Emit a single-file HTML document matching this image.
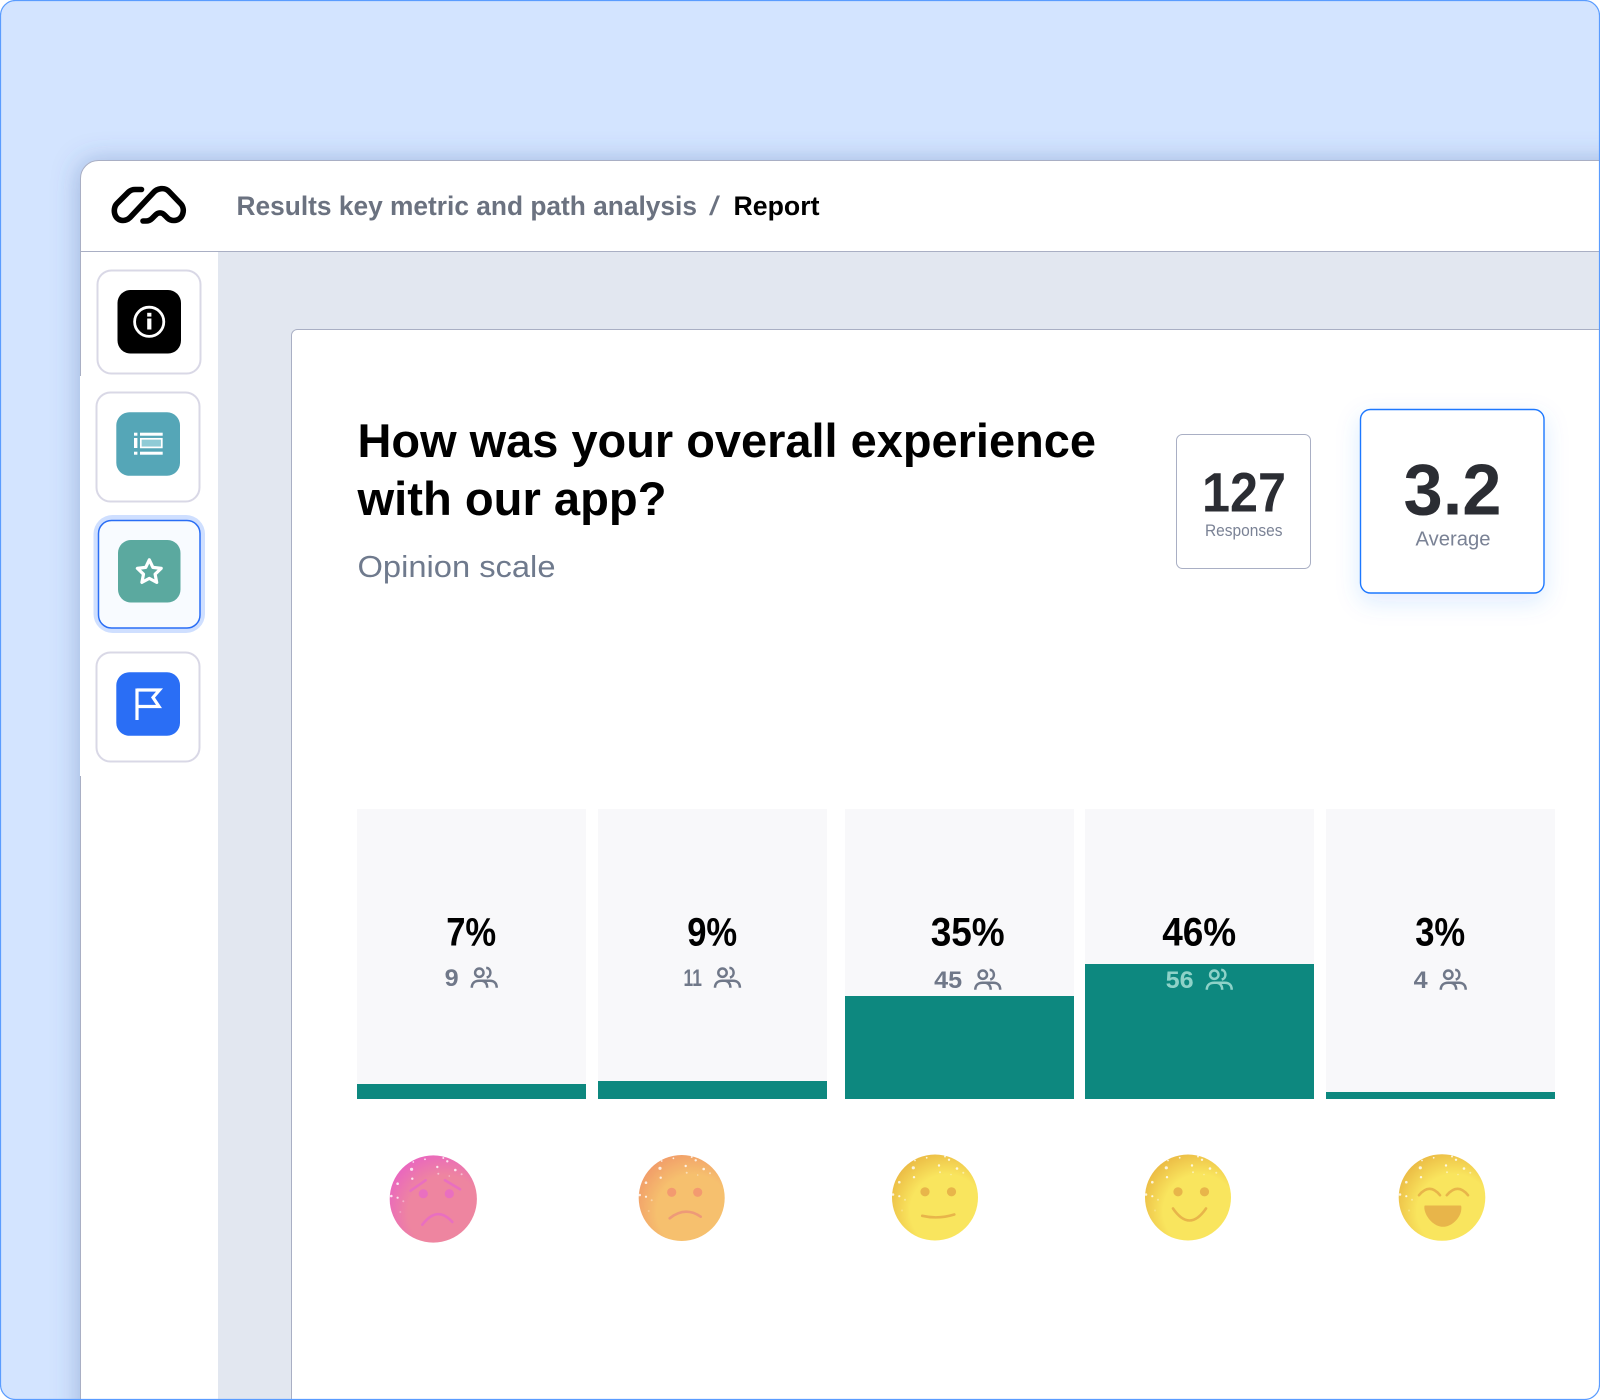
<!DOCTYPE html>
<html lang="en">
<head>
<meta charset="utf-8">
<title>Opinion scale report</title>
<style>
  html, body { margin: 0; padding: 0; background: #ffffff; }
  svg { display: block; font-family: "Liberation Sans", sans-serif; }
</style>
</head>
<body>
<svg id="page" xmlns="http://www.w3.org/2000/svg" width="1600" height="1400" viewBox="0 0 1600 1400">
  <defs>
    <clipPath id="frame-clip"><rect x="0.5" y="0.5" width="1599" height="1399" rx="15"/></clipPath>
    <filter id="app-shadow" filterUnits="userSpaceOnUse" x="0" y="80" width="1700" height="1400">
      <feDropShadow dx="-2" dy="0" stdDeviation="13" flood-color="#3f5f9f" flood-opacity="0.34"/>
    </filter>
    <filter id="average-shadow" filterUnits="userSpaceOnUse" x="1300" y="360" width="300" height="290">
      <feDropShadow dx="0" dy="8" stdDeviation="12" flood-color="#2c78ff" flood-opacity="0.15"/>
    </filter>
    <filter id="speckle-blur" x="-20%" y="-20%" width="140%" height="140%">
      <feGaussianBlur stdDeviation="0.35"/>
    </filter>
    <radialGradient id="grad-pink" cx="0.64" cy="0.66" r="0.78">
      <stop offset="0.55" stop-color="#ee85a0"/><stop offset="1" stop-color="#e85fc6"/>
    </radialGradient>
    <radialGradient id="grad-orange" cx="0.64" cy="0.66" r="0.78">
      <stop offset="0.55" stop-color="#f6c06e"/><stop offset="1" stop-color="#f09568"/>
    </radialGradient>
    <radialGradient id="grad-yellow" cx="0.64" cy="0.66" r="0.78">
      <stop offset="0.55" stop-color="#f9e55e"/><stop offset="1" stop-color="#e8b23f"/>
    </radialGradient>
    <g id="speckles" fill="#ffffff" fill-opacity="0.8" filter="url(#speckle-blur)">
      <circle cx="-21.7" cy="-29.7" r="1.6"/><circle cx="-8.3" cy="-39.7" r="0.9"/><circle cx="10" cy="-41" r="1"/>
      <circle cx="14" cy="-37.7" r="1.2"/><circle cx="4" cy="-32" r="1.2"/><circle cx="22" cy="-29" r="1.3"/>
      <circle cx="5" cy="-25.3" r="1" fill-opacity="0.5"/><circle cx="28.3" cy="-24.7" r="1" fill-opacity="0.5"/><circle cx="-21" cy="-20.3" r="1.2"/>
      <circle cx="-35.7" cy="-15.3" r="1.3"/><circle cx="-42" cy="-3" r="1.3"/><circle cx="-35.7" cy="-1.3" r="1.1"/>
      <circle cx="-30" cy="2.3" r="1" fill-opacity="0.4"/><circle cx="16" cy="-23" r="0.8" fill-opacity="0.4"/>
      <circle cx="-33" cy="13" r="1" fill-opacity="0.25"/><circle cx="-20" cy="-37" r="0.9"/>
    </g>
  </defs>

  <rect x="0" y="0" width="1600" height="1400" fill="#ffffff"/>
  <g clip-path="url(#frame-clip)">
    <rect x="0" y="0" width="1600" height="1400" fill="#d3e4ff"/>

    <rect x="80.5" y="160.5" width="1580" height="1300" rx="18" fill="#ffffff" stroke="#a9afc4" stroke-width="1" filter="url(#app-shadow)"/>
    <rect x="218" y="252" width="1382" height="1148" fill="#e2e7f0"/>
    <line x1="81" y1="251.5" x2="1600" y2="251.5" stroke="#a9afc4" stroke-width="1"/>
    <rect x="80" y="376" width="2" height="400" fill="#ffffff"/>

    <path d="M141.5 189.5 H135 C132 189.5 130 190.5 128 192.5 L117 203.5 C112 208.5 114 220.5 123 220.5 C126 220.5 128 219.5 130 217.5 L153 193 C157 188 165 187 169 191.5 L180.5 203.5 C186 209 183 220.5 174 220.5 C171 220.5 169 219.5 167.5 218 L165 215.5 C162 212 158 212 155 215.5 L152 218.5 C150 220.5 148 221 146 221 H143" fill="none" stroke="#000000" stroke-width="5.6" stroke-linecap="round"/>

    <text x="236.5" y="215" font-size="26.5" font-weight="700" fill="#6b7280" textLength="460.5" lengthAdjust="spacingAndGlyphs">Results key metric and path analysis</text>
    <text x="709" y="215" font-size="26.5" font-weight="400" fill="#6b7280" textLength="11" lengthAdjust="spacingAndGlyphs">/</text>
    <text x="733.5" y="215" font-size="26.5" font-weight="700" fill="#000000" textLength="86" lengthAdjust="spacingAndGlyphs">Report</text>

    <g>
      <rect x="97.5" y="270.5" width="103" height="103" rx="14" fill="#ffffff" stroke="#d9d8e6" stroke-width="2"/>
      <rect x="117.5" y="290" width="63.5" height="63.5" rx="13" fill="#000000"/>
      <circle cx="149.2" cy="321.8" r="14.6" fill="none" stroke="#ffffff" stroke-width="2.8"/>
      <rect x="147.2" y="318.5" width="4.2" height="11" fill="#ffffff"/>
      <rect x="147.2" y="312.8" width="4.2" height="3.8" fill="#ffffff"/>
    </g>

    <g>
      <rect x="96.5" y="392.5" width="103" height="109" rx="14" fill="#ffffff" stroke="#d9d8e6" stroke-width="2"/>
      <rect x="116.3" y="412.3" width="63.7" height="63.5" rx="13" fill="#55a6b7"/>
      <g fill="#ffffff">
        <rect x="134" y="432.7" width="3.4" height="3"/>
        <rect x="134" y="438" width="3.4" height="10"/>
        <rect x="134" y="451.7" width="3.4" height="3"/>
        <rect x="140" y="432.7" width="22.7" height="3"/>
        <rect x="140" y="451.7" width="22.7" height="3"/>
        <rect x="140.8" y="438.8" width="21" height="8.6" fill="#8fcbd6" stroke="#ffffff" stroke-width="1.7"/>
      </g>
    </g>

    <g>
      <rect x="93.5" y="515" width="111.5" height="118" rx="19" fill="#cfdfff"/>
      <rect x="98.5" y="520.5" width="101.5" height="107.5" rx="13" fill="#f8fbff" stroke="#2a6ef5" stroke-width="1.5"/>
      <rect x="118" y="540" width="62.5" height="62.5" rx="13" fill="#5ba99f"/>
      <polygon transform="translate(149.3 572.3)" points="0,-12.5 3.6,-4.9 11.9,-3.9 5.8,1.9 7.4,10.1 0,6.1 -7.4,10.1 -5.8,1.9 -11.9,-3.9 -3.6,-4.9" fill="none" stroke="#ffffff" stroke-width="3.2" stroke-linejoin="round"/>
    </g>

    <g>
      <rect x="96.5" y="652.5" width="103" height="109" rx="14" fill="#ffffff" stroke="#d9d8e6" stroke-width="2"/>
      <rect x="116.3" y="672.3" width="63.7" height="63.5" rx="13" fill="#2a6ef5"/>
      <path d="M137 688.5 V720 M137 690 H159.5 L153 697.5 L159 706.5 H137" fill="none" stroke="#ffffff" stroke-width="3.2"/>
    </g>

    <rect x="291.5" y="329.5" width="1400" height="1100" rx="6" fill="#ffffff" stroke="#a9afc4" stroke-width="1"/>

    <text x="357.5" y="457" font-size="47" font-weight="700" fill="#000000" textLength="738.5" lengthAdjust="spacingAndGlyphs">How was your overall experience</text>
    <text x="357.5" y="515" font-size="47" font-weight="700" fill="#000000" textLength="309" lengthAdjust="spacingAndGlyphs">with our app?</text>
    <text x="357.5" y="577" font-size="31" fill="#6f7a8d" textLength="198" lengthAdjust="spacingAndGlyphs">Opinion scale</text>

    <g>
      <rect x="1176.5" y="434.5" width="134" height="134" rx="6" fill="#ffffff" stroke="#a9afc4" stroke-width="1"/>
      <text x="1202" y="511.7" font-size="56" font-weight="700" fill="#2b2d33" textLength="84" lengthAdjust="spacingAndGlyphs">127</text>
      <text x="1205" y="536" font-size="16.5" fill="#7a8295" textLength="77.5" lengthAdjust="spacingAndGlyphs">Responses</text>
    </g>
    <g>
      <rect x="1360.5" y="409.5" width="183.5" height="183.5" rx="10" fill="#ffffff" stroke="#1f78ff" stroke-width="1.4" filter="url(#average-shadow)"/>
      <text x="1403.5" y="514.5" font-size="72" font-weight="700" fill="#2b2d33" textLength="98" lengthAdjust="spacingAndGlyphs">3.2</text>
      <text x="1415.5" y="545.7" font-size="20.5" fill="#7a8295" textLength="75" lengthAdjust="spacingAndGlyphs">Average</text>
    </g>

    <g id="chart"></g>

    <g transform="translate(433.3 1199)">
      <circle r="43.6" fill="url(#grad-pink)"/>
      <use href="#speckles"/>
      <g fill="#e96fc0"><circle cx="-10" cy="-5.3" r="4.6"/><circle cx="16" cy="-5.3" r="4.6"/></g>
      <path d="M-22.7 -8.3 L-7.7 -18.7 M11.7 -18.7 L26.7 -9.7 M-11 25.7 Q4 6 19 23" fill="none" stroke="#e96fc0" stroke-width="2.6" stroke-linecap="round"/>
    </g>
    <g transform="translate(681.7 1198)">
      <circle r="43" fill="url(#grad-orange)"/>
      <use href="#speckles"/>
      <g fill="#f39a70"><circle cx="-10" cy="-5.7" r="4.6"/><circle cx="16" cy="-5.7" r="4.6"/></g>
      <path d="M-12 20.3 Q3.5 8 19 18.7" fill="none" stroke="#ee9a78" stroke-width="2.6" stroke-linecap="round"/>
    </g>
    <g transform="translate(935 1197.5)">
      <circle r="43" fill="url(#grad-yellow)"/>
      <use href="#speckles"/>
      <g fill="#e8b54a"><circle cx="-10" cy="-5.7" r="4.6"/><circle cx="16.5" cy="-5.7" r="4.6"/></g>
      <path d="M-12.8 18.3 Q3 22 19.3 17" fill="none" stroke="#e8b54a" stroke-width="2.6" stroke-linecap="round"/>
    </g>
    <g transform="translate(1188 1197.5)">
      <circle r="43" fill="url(#grad-yellow)"/>
      <use href="#speckles"/>
      <g fill="#e8b54a"><circle cx="-10" cy="-5.7" r="4.6"/><circle cx="16.5" cy="-5.7" r="4.6"/></g>
      <path d="M-15 11 Q1.5 35 18 11" fill="none" stroke="#e8b54a" stroke-width="2.6" stroke-linecap="round"/>
    </g>
    <g transform="translate(1442 1197.5)">
      <circle r="43.3" fill="url(#grad-yellow)"/>
      <use href="#speckles"/>
      <path d="M-23 -2.3 Q-12.4 -15 -2 -2.3 M4.8 -2.3 Q15.7 -15 26 -2.3" fill="none" stroke="#e8b54a" stroke-width="2.6" stroke-linecap="round"/>
      <path d="M-17 8 H18.5 Q20 8 19 14 C17 22 9 29.3 1 29.3 C-8 29.3 -16 20 -17.5 12 Q-18 8 -17 8 Z" fill="#e8b54a"/>
    </g>
  </g>
  <rect x="0.5" y="0.5" width="1599" height="1399" rx="15" fill="none" stroke="#5a9cff" stroke-width="1.2"/>

  <script>
    const categories = ['very-unhappy', 'unhappy', 'neutral', 'happy', 'very-happy'];
    const fillValues = [5.2, 6.2, 35.5, 46.5, 2.4];
    const percentLabels = [7, 9, 35, 46, 3];
    const responseCounts = [9, 11, 45, 56, 4];

    const SVG_NS = 'http://www.w3.org/2000/svg';
    const chart = document.getElementById('chart');
    const trackTop = 809;
    const trackBottom = 1099;
    const bandWidth = 229;

    function bandLeft(i) {
      return 357 + 241 * i + (i >= 2 ? 6 : 0) - (i >= 3 ? 1 : 0);
    }
    function fillHeight(v) {
      return (v / 100) * (trackBottom - trackTop);
    }
    function labelCenter(i) {
      return bandLeft(i) + bandWidth / 2 + (i === 2 ? 8.5 : 0) - 0.3;
    }
    function percentWidth(n) {
      return String(n).length * 24 + 26;
    }
    function countWidth(n) {
      return String(n).split('').reduce(function (sum, ch) {
        return sum + (ch === '1' ? 9.2 : 14);
      }, 0);
    }
    function make(tag, parent) {
      const el = document.createElementNS(SVG_NS, tag);
      parent.appendChild(el);
      return el;
    }

    categories.forEach(function (category, i) {
      const group = make('g', chart);
      
      

      const track = make('rect', group);
      
      
      track.setAttribute('x', bandLeft(i));
      track.setAttribute('y', trackTop);
      track.setAttribute('width', bandWidth);
      track.setAttribute('height', trackBottom - trackTop);
      track.setAttribute('fill', '#f8f8fa');

      const h = fillHeight(fillValues[i]);
      const fill = make('rect', group);
      
      
      fill.setAttribute('x', bandLeft(i));
      fill.setAttribute('y', trackBottom - h);
      fill.setAttribute('width', bandWidth);
      fill.setAttribute('height', h);
      fill.setAttribute('fill', '#0d887f');
      fill.setAttribute('shape-rendering', 'crispEdges');

      const cx = labelCenter(i);
      const pct = make('text', group);
      
      
      const pw = percentWidth(percentLabels[i]);
      pct.setAttribute('x', cx - pw / 2);
      pct.setAttribute('y', 945.5);
      pct.setAttribute('font-size', '40');
      pct.setAttribute('font-weight', '700');
      pct.setAttribute('fill', '#000000');
      pct.setAttribute('textLength', pw);
      pct.setAttribute('lengthAdjust', 'spacingAndGlyphs');
      pct.textContent = percentLabels[i] + '%';

      const rowShift = i >= 2 ? 2 : 0;
      const baseline = 986 + rowShift;
      const color = trackBottom - h < baseline ? '#8ed2c8' : '#707889';
      const cw = countWidth(responseCounts[i]);
      const left = cx - (cw + 12 + 27) / 2;

      const count = make('text', group);
      
      
      count.setAttribute('x', left);
      count.setAttribute('y', baseline);
      count.setAttribute('font-size', '24');
      count.setAttribute('font-weight', '700');
      count.setAttribute('fill', color);
      count.setAttribute('textLength', cw);
      count.setAttribute('lengthAdjust', 'spacingAndGlyphs');
      count.textContent = responseCounts[i];

      const icon = make('g', group);
      
      
      icon.setAttribute('transform', 'translate(' + (left + cw + 12) + ' ' + (966.7 + rowShift) + ')');
      icon.setAttribute('fill', 'none');
      icon.setAttribute('stroke', color);
      icon.setAttribute('stroke-width', '2.5');

      const head = make('circle', icon);
      head.setAttribute('cx', '8.6');
      head.setAttribute('cy', '6');
      head.setAttribute('r', '4.2');

      const back = make('path', icon);
      back.setAttribute('d', 'M15.5 1.2 C20.5 1.2 21.5 9.5 16 10.8');

      const shoulders = make('path', icon);
      shoulders.setAttribute('d', 'M1.1 21 C1.1 16 4.5 14 8.5 14 H19 C23.5 14 26 16.5 26 21');

      const inner = make('path', icon);
      inner.setAttribute('d', 'M16.5 21 C16.5 17 14.5 14.5 11 14');
    });
  </script>
</svg>
</body>
</html>
